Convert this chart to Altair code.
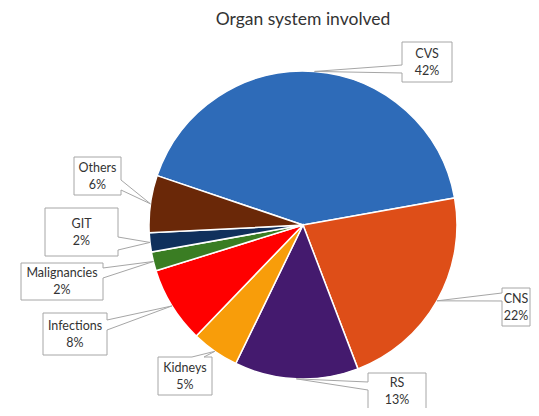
import math
import altair as alt
import pandas as pd

# ---- data ----
categories = ["CVS", "CNS", "RS", "Kidneys", "Infections", "Malignancies", "GIT", "Others"]
percents = [42, 22, 13, 5, 8, 2, 2, 6]
colors = ["#2E6BB8", "#DE4E18", "#441A6E", "#F89D0A", "#FF0000", "#3A7D23", "#10305C", "#6A2808"]
title_text = "Organ system involved"

# ---- layout (view pixel coords) ----
CX, CY, R = 295, 217, 154
START = math.radians(288.7)
LH = 17
# callout boxes: x0, x1, y0, y1 ; wedge base points: bx1, by1, bx2, by2
boxes = {
    "CVS": (394, 444, 34, 74, 394, 57, 394, 65),
    "CNS": (494, 522, 280, 318, 494, 285, 494, 293),
    "RS": (360, 418, 365, 402, 360, 374, 360, 382),
    "Kidneys": (150, 204, 349, 387, 184, 349, 196, 349),
    "Infections": (35, 99, 305, 347, 99, 312, 99, 322),
    "Malignancies": (13, 95, 255, 292, 95, 260, 95, 270),
    "GIT": (37, 110, 200, 248, 110, 229, 110, 242),
    "Others": (66, 113, 149, 187, 113, 172, 113, 182),
}

df = pd.DataFrame({"cat": categories, "value": percents, "order": list(range(len(categories)))})
lay = pd.DataFrame(
    [(c, *v) for c, v in boxes.items()],
    columns=["cat", "x0", "x1", "y0", "y1", "bx1", "by1", "bx2", "by2"],
)
df = df.merge(lay, on="cat")
df["label"] = df["cat"] + "\n" + df["value"].astype(str) + "%"

color_scale = alt.Scale(domain=categories, range=colors)

pie = alt.Chart(df).mark_arc(outerRadius=R, stroke="white", strokeWidth=1.5).encode(
    theta=alt.Theta("value:Q", stack=True, scale=alt.Scale(range=[START, START + 2 * math.pi])),
    color=alt.Color("cat:N", scale=color_scale, legend=None),
    order=alt.Order("order:Q", sort="ascending"),
    x=alt.value(CX),
    y=alt.value(CY),
)

lab = (
    alt.Chart(df)
    .transform_joinaggregate(total="sum(value)")
    .transform_window(cum="sum(value)", sort=[alt.SortField("order", order="ascending")])
    .transform_calculate(
        mid=f"{START} + 2*PI*(datum.cum - datum.value/2)/datum.total",
    )
    .transform_calculate(
        ax=f"{CX} + {R}*sin(datum.mid)",
        ay=f"{CY} - {R}*cos(datum.mid)",
        tx="(datum.x0 + datum.x1)/2",
        ty=f"(datum.y0 + datum.y1)/2 - {LH}/2",
    )
)

GRAY = "#A6A6A6"
box = lab.mark_rect(fill="white", stroke=GRAY, strokeWidth=1).encode(
    x=alt.X("x0:Q", scale=None), x2="x1:Q",
    y=alt.Y("y0:Q", scale=None), y2="y1:Q",
)
erase = lab.mark_rule(color="white", strokeWidth=2).encode(
    x=alt.X("bx1:Q", scale=None), y=alt.Y("by1:Q", scale=None),
    x2="bx2:Q", y2="by2:Q",
)
w1 = lab.mark_rule(color=GRAY, strokeWidth=1).encode(
    x=alt.X("ax:Q", scale=None), y=alt.Y("ay:Q", scale=None),
    x2="bx1:Q", y2="by1:Q",
)
w2 = lab.mark_rule(color=GRAY, strokeWidth=1).encode(
    x=alt.X("ax:Q", scale=None), y=alt.Y("ay:Q", scale=None),
    x2="bx2:Q", y2="by2:Q",
)
txt = lab.mark_text(
    font="Lato", fontSize=12.5, color="#333333", lineBreak="\n", lineHeight=LH,
    align="center", baseline="middle",
).encode(
    x=alt.X("tx:Q", scale=None), y=alt.Y("ty:Q", scale=None), text="label:N",
)

title = alt.Chart(pd.DataFrame({"t": [title_text]})).mark_text(
    font="Lato", fontSize=17.5, color="#333333", align="center", baseline="middle"
).encode(x=alt.value(CX), y=alt.value(12), text="t:N")

chart = alt.layer(pie, box, erase, w1, w2, txt, title).properties(
    width=523, height=400,
    autosize=alt.AutoSizeParams(type="none"),
    padding=0,
).configure_view(stroke=None)

chart.save("out.html", embed_options={"renderer": "svg", "actions": False})
